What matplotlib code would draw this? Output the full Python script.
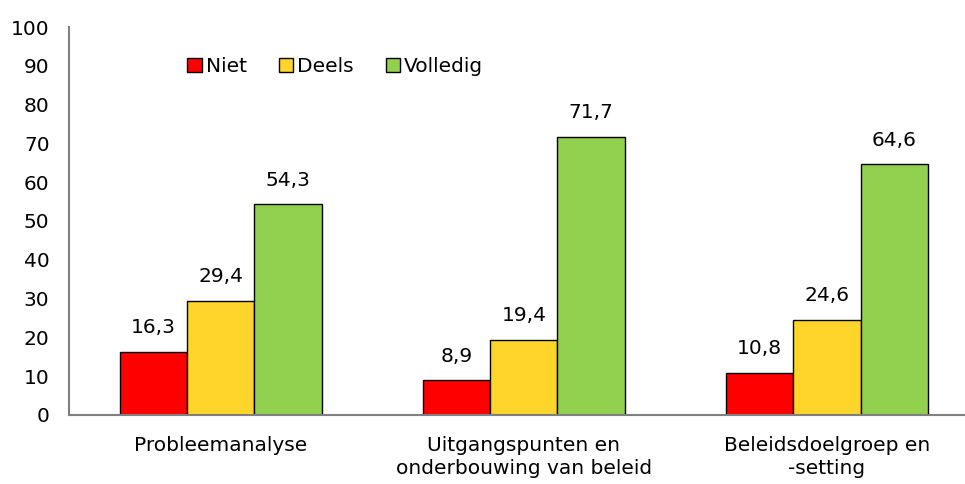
import matplotlib.pyplot as plt
import numpy as np

categories = ['Probleemanalyse', 'Uitgangspunten en\nonderbouwing van beleid', 'Beleidsdoelgroep en\n-setting']
series = ['Niet', 'Deels', 'Volledig']
niet = [16.3, 8.9, 10.8]
deels = [29.4, 19.4, 24.6]
volledig = [54.3, 71.7, 64.6]
colors = ['#FF0000', '#FFD52B', '#92D050']

fig = plt.figure(figsize=(9.65, 4.84), dpi=100)
ax = fig.add_axes([0.0715, 0.1426, 0.9285, 0.8016])

x = np.arange(len(categories))
w = 0.222
for i, (name, vals) in enumerate(zip(series, [niet, deels, volledig])):
    pos = x + (i - 1) * w
    bars = ax.bar(pos, vals, w, color=colors[i], edgecolor='black', linewidth=1, label=name)
    for b, v in zip(bars, vals):
        ax.text(b.get_x() + b.get_width() / 2, v + 3.8, f'{v:.1f}'.replace('.', ','),
                ha='center', va='bottom', fontsize=14.5)

ax.set_xlim(-0.5, 2.455)
ax.set_ylim(0, 100)
ax.set_yticks(range(0, 101, 10))
ax.set_xticks(x)
ax.set_xticklabels(categories, fontsize=14.5, linespacing=1.3)
ax.tick_params(axis='y', labelsize=14.5, length=0, pad=14)
ax.tick_params(axis='x', length=0, pad=15)
for s in ['top', 'right']:
    ax.spines[s].set_visible(False)
for s in ['left', 'bottom']:
    ax.spines[s].set_color('#808080')
    ax.spines[s].set_linewidth(1.5)

ax.legend(loc='upper left', bbox_to_anchor=(0.112, 0.97), ncol=3, frameon=False,
          fontsize=14.5, handlelength=0.7, handleheight=0.7, handletextpad=0.2,
          columnspacing=1.6)

plt.savefig('out.png', dpi=100)
